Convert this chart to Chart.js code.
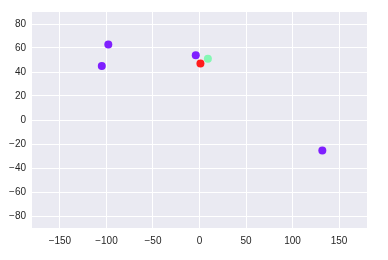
<!DOCTYPE html>
<html>
<head>
<meta charset="utf-8">
<script src="https://cdn.jsdelivr.net/npm/chart.js@4/dist/chart.umd.min.js"></script>
<style>
  html, body { margin: 0; padding: 0; background: #fff; }
  #wrap { width: 388px; height: 260px; }
</style>
</head>
<body>
<div id="wrap"><canvas id="scatterChart" width="388" height="260"></canvas></div>
<script>
// point data
const xValues = [-98, -105, -4, 1, 9, 132];
const yValues = [63, 45, 54, 47, 51, -25.5];
const pointColors = ["#7f1fff", "#7f1fff", "#7f1fff", "#ff1c1c", "#84f7b4", "#7f1fff"];

const xTicks = [-150, -100, -50, 0, 50, 100, 150];
const yTicks = [-80, -60, -40, -20, 0, 20, 40, 60, 80];

const minus = (v) => String(v).replace("-", "\u2212");

const plotBackground = {
  id: "plotBackground",
  beforeDraw(chart) {
    const { ctx, chartArea } = chart;
    ctx.save();
    ctx.fillStyle = "#eaeaf2";
    ctx.fillRect(chartArea.left, chartArea.top, chartArea.right - chartArea.left, chartArea.bottom - chartArea.top);
    ctx.restore();
  },
};

new Chart(document.getElementById("scatterChart"), {
  type: "scatter",
  data: {
    datasets: [
      {
        data: xValues.map((x, i) => ({ x: x, y: yValues[i] })),
        backgroundColor: pointColors,
        borderColor: pointColors,
        borderWidth: 0,
        pointRadius: 4,
      },
    ],
  },
  options: {
    responsive: false,
    animation: false,
    layout: { padding: { left: 0, right: 21, top: 10, bottom: 0 } },
    plugins: { legend: { display: false }, tooltip: { enabled: false } },
    scales: {
      x: {
        type: "linear",
        min: -180,
        max: 180,
        afterBuildTicks: (axis) => { axis.ticks = xTicks.map((v) => ({ value: v })); },
        afterFit: (axis) => { axis.height = 32; },
        border: { display: false },
        grid: { color: "#ffffff", lineWidth: 1, drawTicks: false },
        ticks: {
          padding: 7,
          color: "#262626",
          font: { family: "'Liberation Sans', Arial, sans-serif", size: 10 },
          callback: (v) => minus(v),
          maxRotation: 0,
        },
      },
      y: {
        type: "linear",
        min: -90,
        max: 90,
        afterBuildTicks: (axis) => { axis.ticks = yTicks.map((v) => ({ value: v })); },
        afterFit: (axis) => { axis.width = 32; },
        border: { display: false },
        grid: { color: "#ffffff", lineWidth: 1, drawTicks: false },
        ticks: {
          padding: 6,
          color: "#262626",
          font: { family: "'Liberation Sans', Arial, sans-serif", size: 10 },
          callback: (v) => minus(v),
        },
      },
    },
  },
  plugins: [plotBackground],
});
</script>
</body>
</html>
